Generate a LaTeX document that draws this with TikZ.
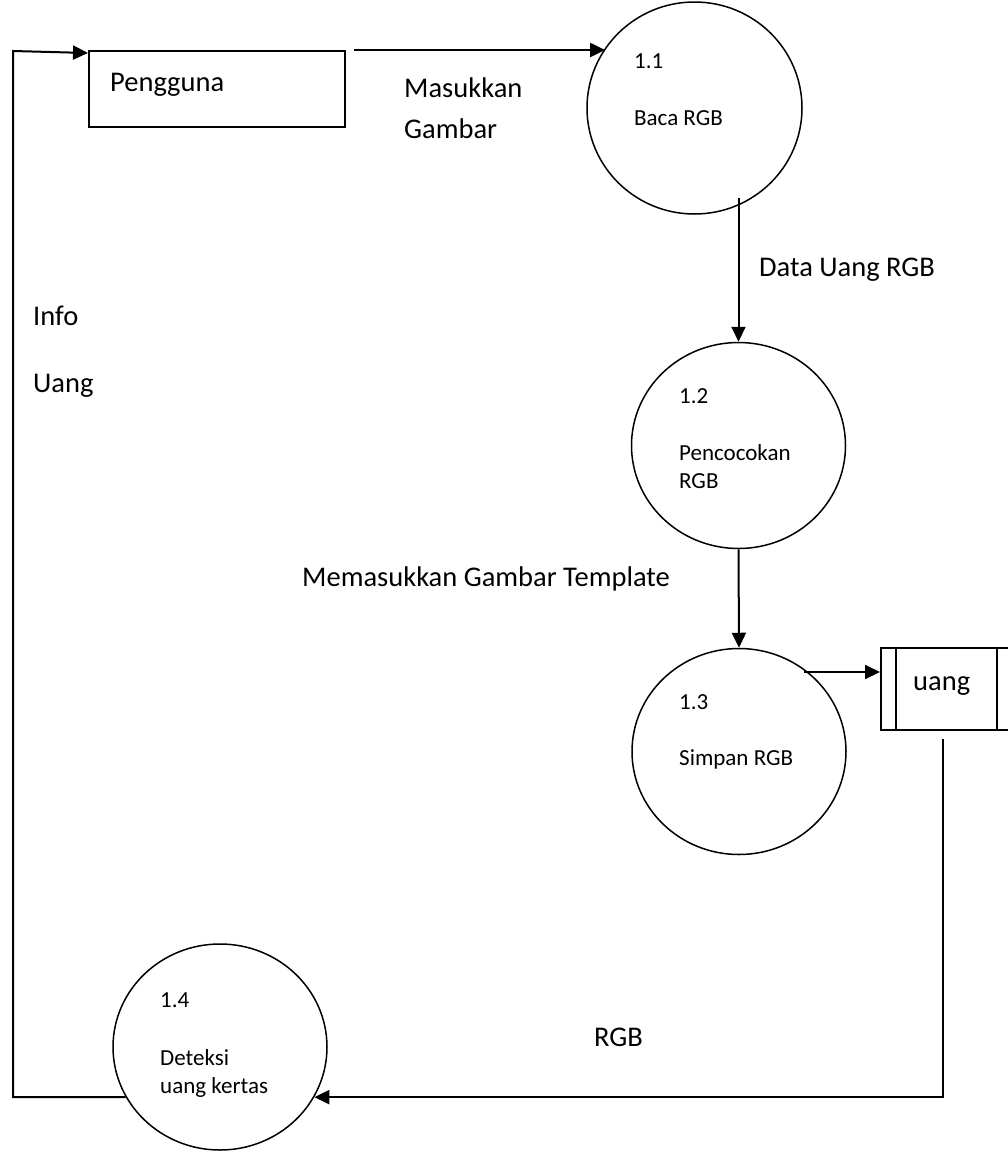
\documentclass[tikz,border=0pt]{standalone}
\usepackage{fontspec}
\setmainfont{Carlito}
\usetikzlibrary{shapes.geometric,arrows.meta}

\tikzset{
  proc/.style={ellipse, draw, line width=1.5pt, inner sep=0pt,
               minimum width=214pt, minimum height=206pt},
  entity/.style={rectangle, draw, line width=2pt, inner sep=0pt},
  flow/.style={line width=2pt, -{Triangle[length=15pt,width=14pt]}},
  big/.style={font=\fontsize{28.5}{34}\selectfont, inner sep=0pt, anchor=base west},
  small/.style={font=\fontsize{23}{28}\selectfont, inner sep=0pt, anchor=base west},
}

\begin{document}
\begin{tikzpicture}[x=1pt,y=-1pt]
\useasboundingbox (0,0) rectangle (1008,1152);
\clip (0,0) rectangle (1008,1152);

% external entity and data store
\node[entity, minimum width=256pt, minimum height=76pt] (pengguna) at (217,89) {};
\node[big] (tpengguna) at (110,91) {Pengguna};

\node[entity, minimum width=131pt, minimum height=82pt] (store) at (946.5,689) {};
\draw[line width=1.5pt] ([xshift=16pt]store.north west) -- ([xshift=16pt]store.south west);
\draw[line width=1.5pt] ([xshift=-16pt]store.north east) -- ([xshift=-16pt]store.south east);
\node[big] (tstore) at (913,690) {uang};

% processes
\node[proc, minimum width=215pt, minimum height=212pt] (p11) at (694.5,108) {};
\node[small] (n11) at (634,68) {1.1};
\node[small] (t11) at (634,125) {Baca RGB};

\node[proc] (p12) at (738.5,445.5) {};
\node[small] (n12) at (679,403) {1.2};
\node[small] (t12a) at (679,460) {Pencocokan};
\node[small] (t12b) at (679,488) {RGB};

\node[proc] (p13) at (739,751.5) {};
\node[small] (n13) at (679,709) {1.3};
\node[small] (t13) at (679,765) {Simpan RGB};

\node[proc] (p14) at (220,1047) {};
\node[small] (n14) at (160,1007) {1.4};
\node[small] (t14a) at (160,1065) {Deteksi};
\node[small] (t14b) at (160,1093) {uang kertas};

% data flows
\draw[flow] ([xshift=8pt]pengguna.north east) -- (p11.146 |- pengguna.north east);
\draw[flow] ([yshift=8pt]p12.north |- p11.-66) -- (p12.north);
\draw[flow] (p12.south) -- (p13.north);
\coordinate (storein) at ([yshift=17pt]store.west);
\draw[flow] (p13.52 |- storein) -- (storein);
\draw[flow] ([xshift=-3.5pt,yshift=-8pt]store.south) |- (p14.-28);
\coordinate (lcorner) at (13,51);
\draw[flow] (p14.208) -| (lcorner) -- ([yshift=-3pt]pengguna.north west);

% flow labels
\node[big] (lmasuk) at (404,97) {Masukkan};
\node[big] (lgambar) at (404,138) {Gambar};
\node[big] (ldata) at (759,276) {Data Uang RGB};
\node[big] (linfo) at (33,325) {Info};
\node[big] (luang) at (33,392) {Uang};
\node[big] (ltemplate) at (302,586) {Memasukkan Gambar Template};
\node[big] (lrgb) at (594,1046) {RGB};
\end{tikzpicture}
\end{document}
